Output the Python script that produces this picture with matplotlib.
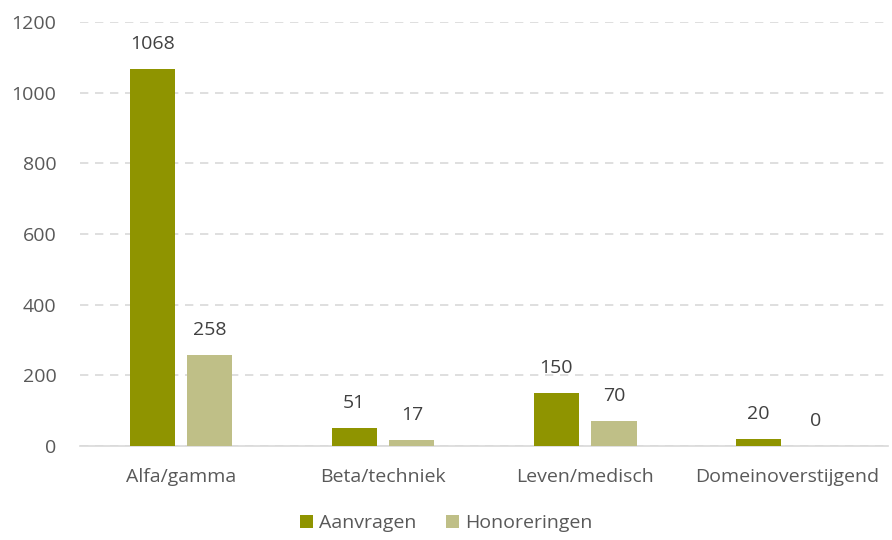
import matplotlib.pyplot as plt
import numpy as np

plt.rcParams['font.family'] = ['Open Sans', 'DejaVu Sans']

categories = ['Alfa/gamma', 'Beta/techniek', 'Leven/medisch', 'Domeinoverstijgend']
aanvragen = [1068, 51, 150, 20]
honoreringen = [258, 17, 70, 0]
series_names = ['Aanvragen', 'Honoreringen']
colors = ['#8f9400', '#bfbf87']

fig = plt.figure(figsize=(8.92, 5.4), dpi=100)
ax = fig.add_axes([0.0897, 0.174, 0.906, 0.785])

x = np.arange(len(categories))
w = 0.223
off = 0.143
b1 = ax.bar(x - off, aanvragen, w, color=colors[0], label=series_names[0], zorder=3)
b2 = ax.bar(x + off, honoreringen, w, color=colors[1], label=series_names[1], zorder=3)

# waardelabels boven de staven
for bars, vals in ((b1, aanvragen), (b2, honoreringen)):
    for b, v in zip(bars, vals):
        ax.text(b.get_x() + b.get_width() / 2, v + 45, str(v), ha='center', va='bottom',
                fontsize=14, color='#404040')

ax.set_xlim(-0.5, len(categories) - 0.5)
ax.set_ylim(0, 1200)
ax.set_yticks(range(0, 1201, 200))
ax.set_xticks(x)
ax.set_xticklabels(categories)
ax.tick_params(axis='both', length=0, labelsize=14, labelcolor='#595959')
ax.tick_params(axis='x', pad=16)
ax.tick_params(axis='y', pad=17)
ax.yaxis.grid(True, color='#d9d9d9', linestyle=(0, (5, 4)), linewidth=1.2, zorder=0)
for s in ['top', 'right', 'left']:
    ax.spines[s].set_visible(False)
ax.spines['bottom'].set_color('#d9d9d9')
ax.spines['bottom'].set_linewidth(1.2)

fig.legend(loc='lower center', bbox_to_anchor=(0.5, -0.018), ncol=2, frameon=False,
           fontsize=14, handlelength=0.7, handleheight=0.7, handletextpad=0.3,
           columnspacing=1.5, labelcolor='#595959')

fig.savefig('out.png', dpi=100)
